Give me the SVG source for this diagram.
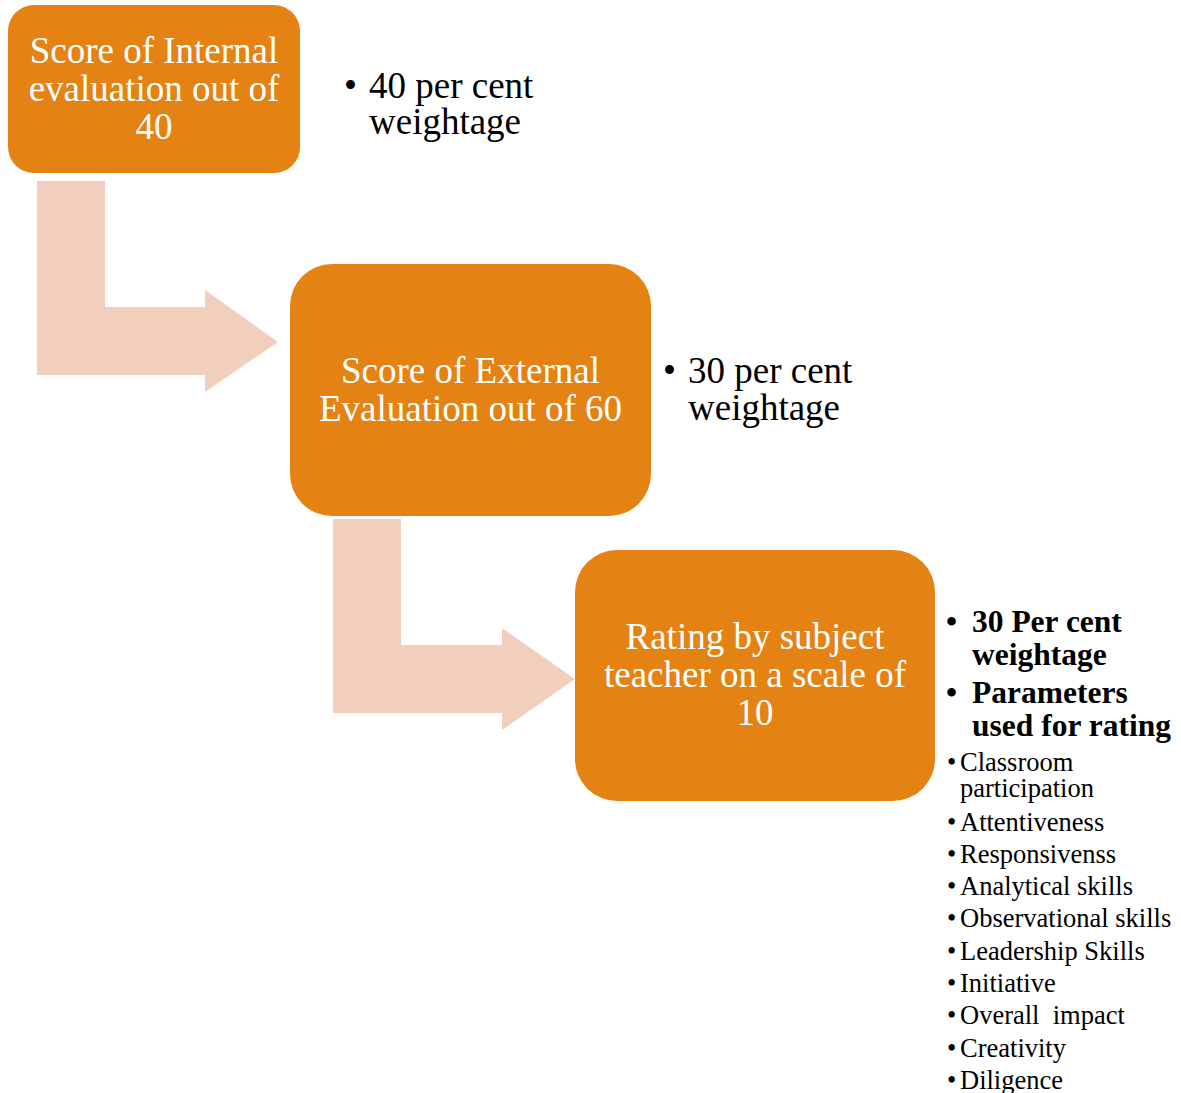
<svg xmlns="http://www.w3.org/2000/svg" width="1181" height="1093" viewBox="0 0 1181 1093">
<style>
.box{fill:#E48313;}
.arrow{fill:#F2CEBC;}
.bt{font-family:"Liberation Serif","Times New Roman",serif;font-size:37px;fill:#FFFFFF;text-anchor:middle;}
.side{font-family:"Liberation Serif","Times New Roman",serif;font-size:37px;fill:#000000;}
.bold{font-family:"Liberation Serif","Times New Roman",serif;font-size:31.5px;font-weight:bold;fill:#000000;}
.small{font-family:"Liberation Serif","Times New Roman",serif;font-size:26.5px;fill:#000000;}
</style>
<rect width="1181" height="1093" fill="#FFFFFF"/>
<g id="connectors">
<path class="arrow" d="M37,181 H105 V307 H205 V290 L278,342 L205,392 V375 H37 Z"/>
<path class="arrow" d="M333,519 H401 V645 H502 V628 L575,679 L502,730 V713 H333 Z"/>
</g>
<g id="node1">
<rect class="box" x="8" y="5" width="292" height="168" rx="26" ry="26"/>
<text class="bt" x="154" y="63">Score of Internal</text>
<text class="bt" x="154" y="101">evaluation out of</text>
<text class="bt" x="154" y="139">40</text>
</g>
<g id="note1">
<text class="side" x="344" y="98">•</text>
<text class="side" x="369" y="98">40 per cent</text>
<text class="side" x="369" y="134">weightage</text>
</g>
<g id="node2">
<rect class="box" x="290" y="264" width="361" height="252" rx="42" ry="42"/>
<text class="bt" x="470.5" y="383">Score of External</text>
<text class="bt" x="470.5" y="421">Evaluation out of 60</text>
</g>
<g id="note2">
<text class="side" x="663" y="383">•</text>
<text class="side" x="688" y="383">30 per cent</text>
<text class="side" x="688" y="420">weightage</text>
</g>
<g id="node3">
<rect class="box" x="575" y="550" width="360" height="251" rx="42" ry="42"/>
<text class="bt" x="755" y="649">Rating by subject</text>
<text class="bt" x="755" y="687">teacher on a scale of</text>
<text class="bt" x="755" y="725">10</text>
</g>
<g id="note3">
<text class="bold" x="946" y="632">•</text>
<text class="bold" x="972" y="632">30 Per cent</text>
<text class="bold" x="972" y="665">weightage</text>
<text class="bold" x="946" y="703">•</text>
<text class="bold" x="972" y="703">Parameters</text>
<text class="bold" x="972" y="736">used for rating</text>
<text class="small" x="947" y="771">•</text>
<text class="small" x="960" y="771">Classroom</text>
<text class="small" x="960" y="797">participation</text>
<text class="small" x="947" y="831">•</text>
<text class="small" x="960" y="831">Attentiveness</text>
<text class="small" x="947" y="863">•</text>
<text class="small" x="960" y="863">Responsivenss</text>
<text class="small" x="947" y="895">•</text>
<text class="small" x="960" y="895">Analytical  skills</text>
<text class="small" x="947" y="927">•</text>
<text class="small" x="960" y="927">Observational  skills</text>
<text class="small" x="947" y="960">•</text>
<text class="small" x="960" y="960">Leadership Skills</text>
<text class="small" x="947" y="992">•</text>
<text class="small" x="960" y="992">Initiative</text>
<text class="small" x="947" y="1024">•</text>
<text class="small" x="960" y="1024" xml:space="preserve">Overall  impact</text>
<text class="small" x="947" y="1057">•</text>
<text class="small" x="960" y="1057">Creativity</text>
<text class="small" x="947" y="1089">•</text>
<text class="small" x="960" y="1089">Diligence</text>
</g>
</svg>
